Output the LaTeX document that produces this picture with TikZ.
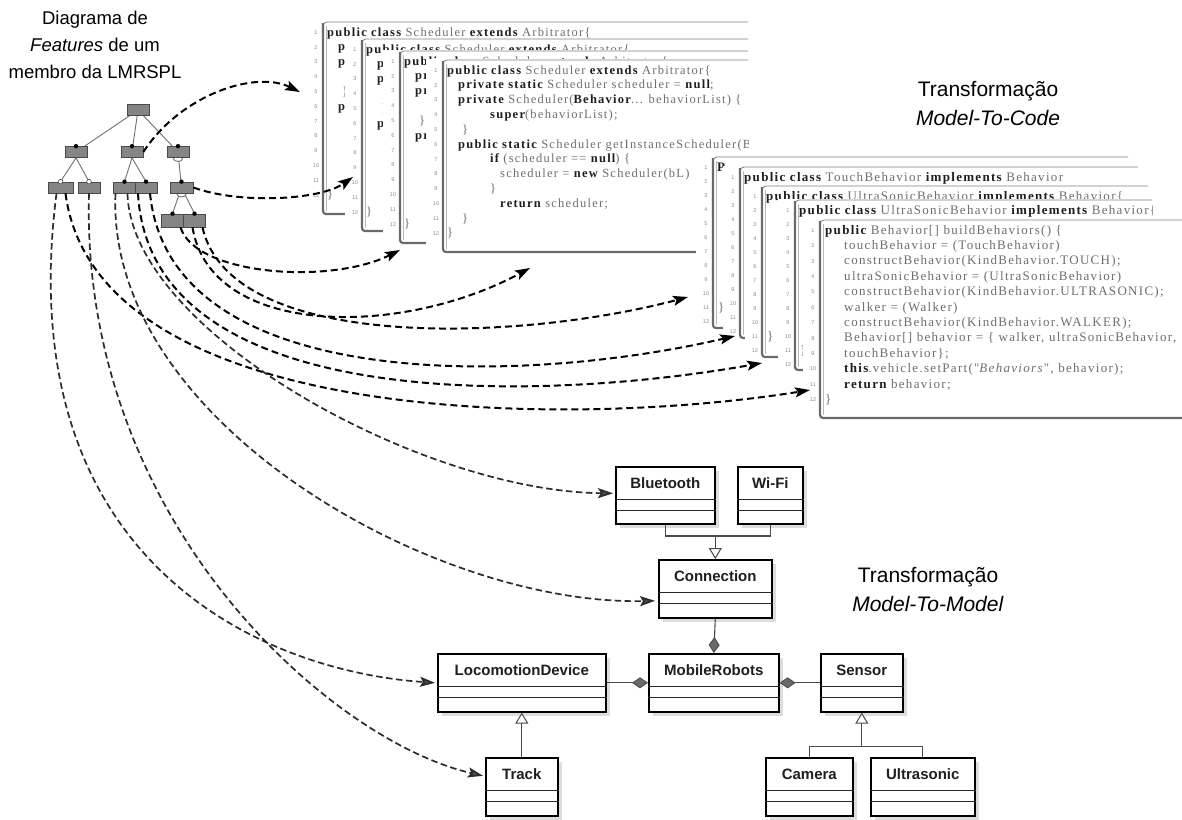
\documentclass[tikz,border=0pt]{standalone}
\usepackage{fontspec}
\setmainfont{Liberation Sans}
\newfontfamily\codefont[LetterSpace=10]{Liberation Serif}
\usetikzlibrary{arrows.meta,calc}

\definecolor{featfill}{HTML}{858585}
\definecolor{featedge}{HTML}{4A4A4A}
\definecolor{treeline}{HTML}{707070}
\definecolor{codegray}{HTML}{6E6E6E}
\definecolor{codekw}{HTML}{1E1E1E}
\definecolor{framedark}{HTML}{6A6A6A}
\definecolor{framelight}{HTML}{B8B8B8}
\definecolor{umlshade}{HTML}{DDDDDD}
\definecolor{umlgray}{HTML}{6A6A6A}
\definecolor{modelarrow}{HTML}{2C2C2C}

\tikzset{
  title/.style={align=center, inner sep=0pt, font=\fontsize{18.5}{27}\selectfont},
  trlabel/.style={align=center, inner sep=0pt, font=\fontsize{21}{29}\selectfont},
  feat/.style={draw=featedge, fill=featfill, line width=0.7pt, minimum width=22pt,
    minimum height=11pt, inner sep=0pt},
  featlow/.style={feat, minimum height=13pt},
  treeedge/.style={draw=treeline, line width=0.9pt},
  codebase/.style={anchor=base west, inner sep=0pt, text=codegray},
  code/.style={codebase, font=\codefont\fontsize{12.5}{12.5}\selectfont},
  behcodestyle/.style={codebase, font=\codefont\fontsize{13}{13}\selectfont},
  lineno/.style={inner sep=0pt, text=black!45, font=\fontsize{5.5}{5.5}\selectfont\rmfamily},
  wintop/.style={draw=framedark!85, line width=0.8pt},
  winrule/.style={draw=framedark, line width=2.2pt},
  winlight/.style={draw=framelight, line width=0.9pt},
  umlbox/.style={rectangle, draw=black, line width=1.6pt, fill=white, inner sep=0pt},
  umlname/.style={inner sep=0pt, text=black!88, font=\bfseries\fontsize{15}{15}\selectfont},
  umlsep/.style={draw=black!85, line width=0.9pt},
  umlshadow/.style={fill=umlshade},
  umlline/.style={draw=umlgray!70!black, line width=1.1pt},
  gentip/.style={-{Triangle[length=11pt,width=13pt,fill=white,line width=1pt]}},
  comptip/.style={-{Diamond[length=16pt,width=11pt,fill=umlgray,line width=0.8pt]}},
  tocode/.style={draw=black, line width=2pt, dash pattern=on 7pt off 4pt,
    -{Stealth[length=15pt,width=10pt,inset=3pt]}},
  tomodel/.style={draw=modelarrow, line width=1.7pt, dash pattern=on 6.5pt off 3.5pt,
    -{Stealth[length=15pt,width=10pt,inset=3pt,fill=modelarrow!85]}},
}

\newcommand\kwd[1]{{\bfseries\color{codekw}#1}}
% one line of code: name, x offset, line number, text (local window coordinates)
\newcommand\codeln[4]{\node[code] (#1) at (#2,{14+(#3-1)*\csep}) {#4};}
% editor frame: prefix, width, height, number of line numbers
\newcommand\winframe[4]{%
  \fill[white] (-17,-1) rectangle (#2,#3+4);
  \draw[wintop, rounded corners=4pt] (0,12) -- (0,0) -- (#2,0);
  \draw[winrule, rounded corners=3pt] (0,1) -- (0,#3) -- (#2,#3);
  \draw[winlight] (3.6,4) -- (3.6,#3-3);
  \foreach \i in {1,...,#4} {\node[lineno] (#1-n\i) at (-7,{10.5+(\i-1)*\csep}) {\i};}
}
% Scheduler editors lying under the next one: heading line and line starts
\newcommand\schedback[2]{%
  \codeln{#1-1}{4}{1}{\kwd{public} \kwd{class} Scheduler \kwd{extends} Arbitrator\{}
  \codeln{#1-2}{15}{2}{\kwd{#2}}
  \codeln{#1-3}{15}{3}{\kwd{#2}}
  \codeln{#1-5}{19}{5}{\}}
  \codeln{#1-6}{15}{6}{\kwd{#2}}
  \codeln{#1-12}{4}{12}{\}}
}
\newcommand\schedcode[1]{%
  \codeln{#1-1}{4}{1}{\kwd{public} \kwd{class} Scheduler \kwd{extends} Arbitrator\{}
  \codeln{#1-2}{15}{2}{\kwd{private} \kwd{static} Scheduler scheduler = \kwd{null};}
  \codeln{#1-3}{15}{3}{\kwd{private} Scheduler(\kwd{Behavior}... behaviorList) \{}
  \codeln{#1-4}{47}{4}{\kwd{super}(behaviorList);}
  \codeln{#1-5}{19}{5}{\}}
  \codeln{#1-6}{15}{6}{\kwd{public} \kwd{static} Scheduler getInstanceScheduler(Behavior ... bL)\{}
  \codeln{#1-7}{47}{7}{\kwd{if} (scheduler == \kwd{null}) \{}
  \codeln{#1-8}{57}{8}{scheduler = \kwd{new} Scheduler(bL)}
  \codeln{#1-9}{47}{9}{\}}
  \codeln{#1-10}{57}{10}{\kwd{return} scheduler;}
  \codeln{#1-11}{19}{11}{\}}
  \codeln{#1-12}{4}{12}{\}}
}
\newcommand\behcode[1]{%
  \codeln{#1-1}{5}{1}{\kwd{public} Behavior[] buildBehaviors() \{}
  \codeln{#1-2}{24}{2}{touchBehavior = (TouchBehavior)}
  \codeln{#1-3}{24}{3}{constructBehavior(KindBehavior.TOUCH);}
  \codeln{#1-4}{24}{4}{ultraSonicBehavior = (UltraSonicBehavior)}
  \codeln{#1-5}{24}{5}{constructBehavior(KindBehavior.ULTRASONIC);}
  \codeln{#1-6}{24}{6}{walker = (Walker)}
  \codeln{#1-7}{24}{7}{constructBehavior(KindBehavior.WALKER);}
  \codeln{#1-8}{24}{8}{Behavior[] behavior = \{ walker, ultraSonicBehavior,}
  \codeln{#1-9}{24}{9}{touchBehavior\};}
  \codeln{#1-10}{24}{10}{\kwd{this}.vehicle.setPart("\textit{Behaviors}", behavior);}
  \codeln{#1-11}{24}{11}{\kwd{return} behavior;}
  \codeln{#1-12}{5}{12}{\}}
}
% UML class with three compartments: name, x, y, width, height, label
\newcommand\umlclass[6]{%
  \fill[umlshadow] (#2+5,#3+5) rectangle (#2+#4+5,#3+#5+5);
  \node[umlbox, minimum width=#4pt, minimum height=#5pt, anchor=north west] (#1) at (#2,#3) {};
  \node[umlname] (#1-name) at ($(#1.north)+(0,17)$) {#6};
  \draw[umlsep] ($(#1.north west)+(0,33)$) -- ($(#1.north east)+(0,33)$);
  \draw[umlsep] ($(#1.north west)+(0,44)$) -- ($(#1.north east)+(0,44)$);
}

\begin{document}
\begin{tikzpicture}[x=1pt,y=-1pt]
\useasboundingbox (0,0) rectangle (1182,819);
\fill[white] (0,0) rectangle (1182,819);

% ---------- feature model ----------
\node[title] (ttl) at (95,45) {Diagrama de\\\textit{Features} de um\\membro da LMRSPL};

\coordinate (rootpos) at (138,110);
\coordinate (fcpos) at (178,152);
\coordinate (fc1pos) at (181.5,187.5);
\draw[treeedge] (rootpos) -- (76,152);
\draw[treeedge] (rootpos) -- (132,152);
\draw[treeedge] (rootpos) -- (fcpos);
\node[feat] (root) at (rootpos) {};
\node[feat] (fa) at (76,152) {};
\node[feat] (fb) at (132,152) {};
\node[feat, minimum width=25pt] (fa1) at (60.5,187.5) {};
\node[feat] (fa2) at (89,187.5) {};
\node[feat] (fb1) at (124.5,187.5) {};
\node[feat] (fb2) at (146,187.5) {};
\node[featlow] (fc1a) at (172.5,220.5) {};
\node[featlow] (fc1b) at (194.5,220.5) {};
\draw[treeedge] (fa.south) -- (fa1.north);
\draw[treeedge] (fa.south) -- (fa2.north);
\draw[treeedge] (fb.south) -- (fb1.north);
\draw[treeedge] (fb.south) -- (fb2.north);
\draw[treeedge] (fcpos) -- (fc1pos);
\draw[treeedge] (fc1pos) -- (fc1a.north);
\draw[treeedge] (fc1pos) -- (fc1b.north);
% group markers under the parent boxes
\draw[treeedge, fill=white] ($(fcpos)+(0,6.5)$) ellipse (4.5pt and 3pt);
\draw[treeedge, fill=white] ($(fc1pos)+(0,6.5)$) ellipse (4.5pt and 3pt);
\node[feat] (fc) at (fcpos) {};
\node[feat, minimum width=23pt] (fc1) at (fc1pos) {};
\foreach \n in {fa,fb,fc,fb1,fb2,fc1,fc1a,fc1b} {\fill[black] (\n.north) circle (2.2pt);}
\foreach \n in {fa1,fa2} {\draw[featedge, fill=white, line width=0.6pt] (\n.north) circle (2.3pt);}

% ---------- Scheduler editors ----------
\def\csep{14.8}
\begin{scope}[shift={(323,22)}] \winframe{wa}{425}{192}{12}
  \begin{scope} \clip (-17,-1) rectangle (425,196); \schedback{wa}{p} \end{scope}
\end{scope}
\begin{scope}[shift={(362,39)}] \winframe{wb}{386}{192}{12}
  \begin{scope} \clip (-17,-1) rectangle (386,196); \schedback{wb}{p} \end{scope}
\end{scope}
\begin{scope}[shift={(400,51)}] \winframe{wc}{348}{192}{12}
  \begin{scope} \clip (-17,-1) rectangle (348,196); \schedback{wc}{pr} \end{scope}
\end{scope}
\begin{scope}[shift={(443,60)}] \winframe{wd}{305}{192}{12}
  \begin{scope} \clip (-17,-1) rectangle (305,196); \schedcode{wd} \end{scope}
\end{scope}

% ---------- Behavior editors ----------
\def\csep{14}
\begin{scope}[shift={(713,157)}, code/.style={behcodestyle}]
  \winframe{va}{415}{171}{12}
  \codeln{va-1}{4}{1}{\kwd{P}}
  \codeln{va-2}{5}{11}{\}}
\end{scope}
\begin{scope}[shift={(740,167)}, code/.style={behcodestyle}]
  \winframe{vb}{398}{171}{12}
  \begin{scope} \clip (-17,-1) rectangle (398,175);
  \codeln{vb-1}{4}{1}{\kwd{public} \kwd{class} TouchBehavior \kwd{implements} Behavior}
  \codeln{vb-2}{5}{11}{\}}
  \end{scope}
\end{scope}
\begin{scope}[shift={(762,186)}, code/.style={behcodestyle}]
  \winframe{vc}{386}{171}{12}
  \begin{scope} \clip (-17,-1) rectangle (386,175);
  \codeln{vc-1}{4}{1}{\kwd{public} \kwd{class} UltraSonicBehavior \kwd{implements} Behavior\{}
  \codeln{vc-2}{5}{11}{\}}
  \end{scope}
\end{scope}
\begin{scope}[shift={(795,200)}, code/.style={behcodestyle}]
  \winframe{vd}{357}{170}{12}
  \begin{scope} \clip (-17,-1) rectangle (357,174);
  \codeln{vd-1}{4}{1}{\kwd{public} \kwd{class} UltraSonicBehavior \kwd{implements} Behavior\{}
  \codeln{vd-2}{5}{11}{\}}
  \end{scope}
\end{scope}
\def\csep{15.4}
\begin{scope}[shift={(820,220)}, code/.style={behcodestyle}]
  \winframe{ve}{362}{198}{12}
  \behcode{ve}
\end{scope}

\node[trlabel] (m2c) at (988,104) {Transformação\\\textit{Model-To-Code}};
\node[trlabel] (m2m) at (928,589) {Transformação\\\textit{Model-To-Model}};

% ---------- class model ----------
\umlclass{bt}{615}{466}{99}{57}{Bluetooth}
\umlclass{wf}{737}{466}{65}{57}{Wi-Fi}
\umlclass{cn}{658}{559}{113}{58}{Connection}
\umlclass{ld}{437}{653}{168}{58}{LocomotionDevice}
\umlclass{mr}{648}{653}{130}{58}{MobileRobots}
\umlclass{sn}{820}{653}{82}{58}{Sensor}
\umlclass{tr}{485}{757}{72}{58}{Track}
\umlclass{cm}{765}{757}{87}{58}{Camera}
\umlclass{us}{870}{757}{104}{58}{Ultrasonic}

\coordinate (genc) at ($(cn.north)+(0,-23)$);
\draw[umlline] (bt.south) |- (genc);
\draw[umlline] (wf.south) |- (genc);
\draw[umlline, gentip] (genc) -- (cn.north);
\coordinate (gens) at ($(sn.south)+(0,34)$);
\draw[umlline] (cm.north) |- (gens);
\draw[umlline] (us.north) |- (gens);
\draw[umlline, gentip] (gens) -- (sn.south);
\draw[umlline, gentip] (tr.north) -- (ld.south);
\draw[umlline, comptip] (cn.south) -- (mr.north);
\draw[umlline, comptip] (ld.east) -- (mr.west);
\draw[umlline, comptip] (sn.west) -- (mr.east);

% ---------- mappings from features ----------
\coordinate (a1) at (300,92);
\coordinate (a2) at (353,177);
\coordinate (a3) at (400,250);
\coordinate (a4) at (530,268);
\coordinate (a5) at (688,297);
\coordinate (a6) at (735,336);
\coordinate (a7) at (762,363);
\coordinate (a8) at (810,390);
\coordinate (b1) at ($(bt.west)+(-2,-2)$);
\coordinate (b2) at ($(cn.west)+(-3,12)$);
\coordinate (b3) at ($(ld.west)+(-2,0)$);
\coordinate (b4) at ($(tr.west)+(-2,-11)$);

\draw[tocode] (fb.east) .. controls +(37,-57) and +(-45,-22) .. (a1);
\draw[tocode] (fc1.east) .. controls +(47,17) and +(-33,23) .. (a2);
\draw[tocode] ($(fc1a.south)+(8,0)$) .. controls +(15,48) and +(-70,35) .. (a3);
\draw[tocode] ($(fc1b.south)+(-2,0)$) .. controls +(18,110) and +(-130,70) .. (a4);
\draw[tocode] ($(fc1b.south)+(8,0)$) .. controls +(28,125) and +(-170,45) .. (a5);
\draw[tocode] ($(fb2.south)+(4,0)$) .. controls +(20,200) and +(-215,50) .. (a6);
\draw[tocode] ($(fb2.south)+(-8,0)$) .. controls +(12,220) and +(-225,40) .. (a7);
\draw[tocode] ($(fa1.south)+(5,0)$) .. controls +(30,230) and +(-250,40) .. (a8);
\draw[tomodel] ($(fa1.south)+(-4,0)$) .. controls +(-47,367) and +(-175,-12) .. (b3);
\draw[tomodel] (fa2.south) .. controls +(-9,327) and +(-153,-35) .. (b4);
\draw[tomodel] ($(fb1.south)+(-9,0)$) .. controls +(-10,227) and +(-222,5) .. (b2);
\draw[tomodel] ($(fb1.south)+(3,0)$) .. controls +(3,137) and +(-193,-2) .. (b1);
\end{tikzpicture}
\end{document}
